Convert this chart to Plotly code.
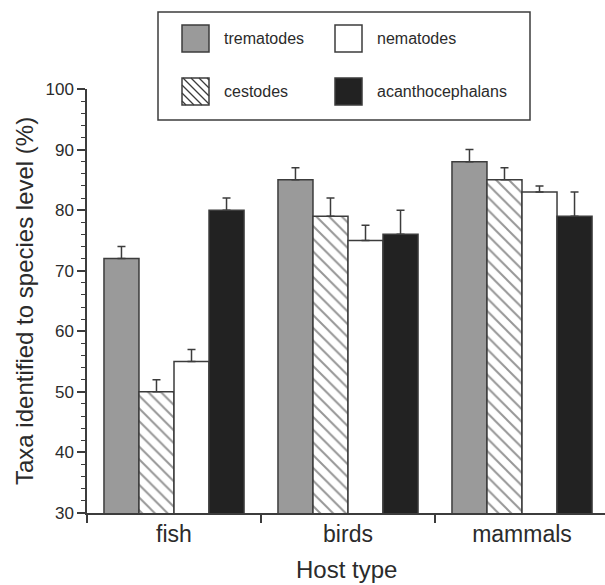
import plotly.graph_objects as go

# ---------------- data ----------------
hosts = ["fish", "birds", "mammals"]
trematodes = [72, 85, 88]
trematodes_err = [2, 2, 2]
cestodes = [50, 79, 85]
cestodes_err = [2, 3, 2]
nematodes = [55, 75, 83]
nematodes_err = [2, 2.5, 1]
acanthocephalans = [80, 76, 79]
acanthocephalans_err = [2, 4, 4]

y_ticks = [30, 40, 50, 60, 70, 80, 90, 100]

# ---------------- geometry (pixels) ----------------
W, H = 605, 585
ML, MT = 87, 89
MB = 72
PW = W - ML          # plot width (extends to right edge)
PH = H - MT - MB     # plot height
CAT_PX = 174         # pixel width of one category

FONT = "Liberation Sans, Arial, Helvetica, sans-serif"
TXT = "#2b2b2b"
LINE = "#3c3c3c"


def px2paper(x, y):
    return (x - ML) / PW, (H - MB - y) / PH


series = [
    ("trematodes", trematodes, trematodes_err, dict(color="#9a9a9a")),
    ("cestodes", cestodes, cestodes_err,
     dict(color="white", pattern=dict(shape="\\", size=9, solidity=0.22,
                                      fgcolor="#2e2e2e", bgcolor="white",
                                      fillmode="overlay"))),
    ("nematodes", nematodes, nematodes_err, dict(color="white")),
    ("acanthocephalans", acanthocephalans, acanthocephalans_err, dict(color="#222222")),
]

fig = go.Figure()
for name, vals, errs, mk in series:
    mk = dict(mk)
    mk["line"] = dict(color=LINE, width=1.5)
    fig.add_trace(go.Bar(
        x=hosts, y=vals, name=name, marker=mk,
        error_y=dict(type="data", symmetric=False, array=errs,
                     arrayminus=[0] * len(errs), color=LINE,
                     thickness=1.5, width=4),
        showlegend=False,
    ))

fig.update_layout(
    width=W, height=H,
    margin=dict(l=ML, r=0, t=MT, b=MB, autoexpand=False),
    plot_bgcolor="white", paper_bgcolor="white",
    barmode="group", bargap=0.195, bargroupgap=0,
    font=dict(family=FONT, color=TXT),
)

fig.update_xaxes(
    type="category", range=[-0.5, -0.5 + PW / CAT_PX],
    showline=True, linecolor=LINE, linewidth=1.5,
    ticks="outside", tickson="boundaries", ticklen=8, tickwidth=1.5,
    tickcolor=LINE, tickfont=dict(size=23, color=TXT),
    showgrid=False, zeroline=False, automargin=False,
)
fig.update_yaxes(
    range=[30, 100], tickvals=y_ticks,
    showline=True, linecolor=LINE, linewidth=1.5,
    ticks="outside", ticklen=8, tickwidth=1.5, tickcolor=LINE,
    minor=dict(dtick=2, tick0=30, ticks="outside", ticklen=4,
               tickwidth=1.2, tickcolor=LINE, showgrid=False),
    tickfont=dict(size=17, color=TXT),
    showgrid=False, zeroline=False, automargin=False,
)

# axis titles
xt, yt = px2paper(24, 301)
fig.add_annotation(text="Taxa identified to species level (%)", x=xt, y=0.5,
                   xref="paper", yref="paper", textangle=-90, showarrow=False,
                   font=dict(size=24, color=TXT), xanchor="center", yanchor="middle")
xt, yt = px2paper(346, 569)
fig.add_annotation(text="Host type", x=xt, y=yt, xref="paper", yref="paper",
                   showarrow=False, font=dict(size=24, color=TXT),
                   xanchor="center", yanchor="middle")

# ---------------- manual legend ----------------
shapes = []
bx0, by0 = px2paper(158, 120)
bx1, by1 = px2paper(530, 12)
shapes.append(dict(type="rect", xref="paper", yref="paper", x0=bx0, y0=by0,
                   x1=bx1, y1=by1, line=dict(color=LINE, width=1.5),
                   fillcolor="white", layer="above"))

legend_items = [
    ("trematodes", 182, 25, "#9a9a9a", False),
    ("nematodes", 335, 25, "white", False),
    ("cestodes", 182, 78, "white", True),
    ("acanthocephalans", 335, 78, "#222222", False),
]
SW = 27
for name, sx, sy, col, hatch in legend_items:
    x0, y0 = px2paper(sx, sy + SW)
    x1, y1 = px2paper(sx + SW, sy)
    shapes.append(dict(type="rect", xref="paper", yref="paper", x0=x0, y0=y0,
                       x1=x1, y1=y1, fillcolor=col,
                       line=dict(color=LINE, width=1.5), layer="above"))
    if hatch:
        step = 8
        path = ""
        c = sx - (sy + SW) + step / 2
        while c < sx + SW - sy:
            ya = max(sy, sx - c)
            yb = min(sy + SW, sx + SW - c)
            if yb > ya:
                pa = px2paper(ya + c, ya)
                pb = px2paper(yb + c, yb)
                path += f"M{pa[0]},{pa[1]} L{pb[0]},{pb[1]} "
            c += step
        shapes.append(dict(type="path", xref="paper", yref="paper", path=path,
                           line=dict(color=LINE, width=1.3), layer="above"))
    tx, ty = px2paper(sx + SW + 13, sy + SW / 2)
    fig.add_annotation(text=name, x=tx, y=ty, xref="paper", yref="paper",
                       showarrow=False, xanchor="left", yanchor="middle",
                       font=dict(size=16, color=TXT))

fig.update_layout(shapes=shapes)

fig.write_html("out.html")
